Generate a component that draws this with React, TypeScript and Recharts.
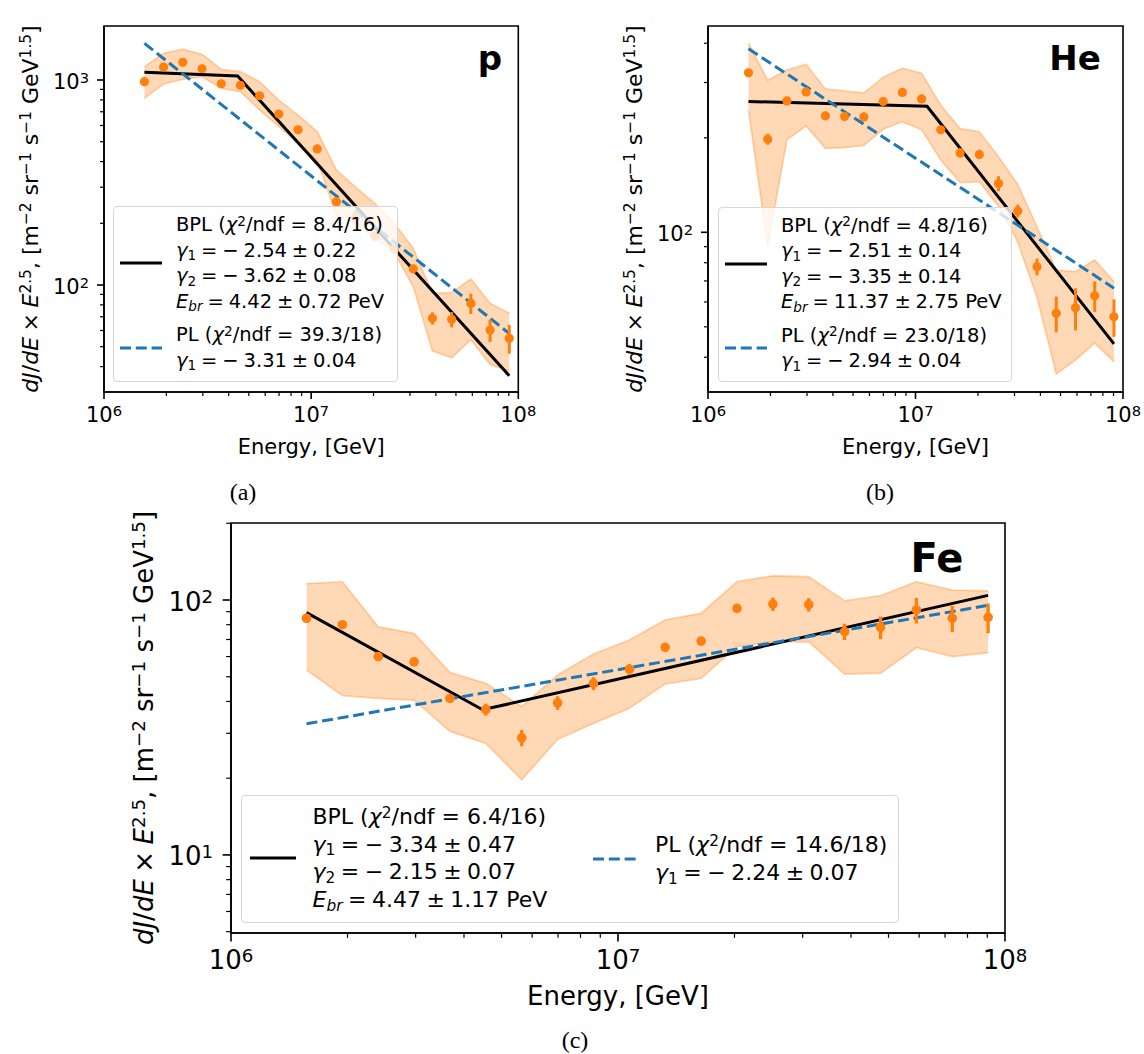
import React from 'react';
import {
  ComposedChart, Area, Line, Scatter, ErrorBar, XAxis, YAxis, ReferenceArea, Legend,
} from 'recharts';

const FONT = '"DejaVu Sans", Verdana, sans-serif';
const ORANGE = '#ff7f0e';
const BLUE = '#1f77b4';

// energy bin centres [GeV], same binning in all panels
const energy = [1.567e6, 1.94e6, 2.401e6, 2.972e6, 3.679e6, 4.555e6, 5.639e6, 6.981e6, 8.643e6, 1.07e7,
  1.324e7, 1.64e7, 2.03e7, 2.513e7, 3.111e7, 3.851e7, 4.768e7, 5.902e7, 7.307e7, 9.045e7];

const xTicks = [1e6, 2e6, 3e6, 4e6, 5e6, 6e6, 7e6, 8e6, 9e6, 1e7, 2e7, 3e7, 4e7, 5e7, 6e7, 7e7, 8e7, 9e7, 1e8];

// (a) protons
const pFlux = [981, 1157, 1220, 1135, 959, 942, 838, 682, 572, 461, 255, 215, 173, 150, 120, 68.8, 68, 81.4, 60.3, 55];
const pErr = [12, 13, 13, 12, 10, 9, 8, 7, 6, 5, 4, 4, 3.5, 3.5, 4, 4.7, 5.8, 9.2, 7.5, 8.8];
const pLo = [815, 955, 1008, 1038, 911, 877, 714, 592, 491, 407, 219, 200, 170, 145, 98, 47.6, 44.2, 54, 41, 38];
const pHi = [1161, 1349, 1412, 1335, 1128, 1098, 981, 798, 674, 560, 364, 300, 250, 200, 151, 91, 92, 107, 81.5, 72.8];
const pBplE = [1.567e6, 4.42e6, 9.045e7];
const pBplY = [1090, 1046, 36.1];
const pPlE = [1.567e6, 9.045e7];
const pPlY = [1510, 58];
const pYTicks = [40, 50, 60, 70, 80, 90, 100, 200, 300, 400, 500, 600, 700, 800, 900, 1000];
const pBplFit = ['8.4/16', '2.54', '0.22', '3.62', '0.08', '4.42', '0.72'];
const pPlFit = ['39.3/18', '3.31', '0.04'];

// (b) helium
const hFlux = [322, 198, 262, 280, 235, 234, 233, 261, 279, 266, 212, 179, 177, 143, 117, 77.7, 55.2, 57.5, 62.8, 53.8];
const hErr = [9, 8, 8, 8, 7, 7, 7, 7, 7, 7, 6, 6, 6, 7.8, 5.5, 4.8, 7.2, 8.8, 7, 7.3];
const hLo = [245, 90, 197, 218, 185, 186, 189, 213, 225, 212, 170, 144, 145, 121, 93, 62, 35.4, 39.2, 44.4, 38.7];
const hHi = [400, 305, 329, 343, 286, 282, 278, 312, 333, 321, 254, 214, 209, 174, 142, 104, 75.8, 75, 81.6, 69.6];
const hBplE = [1.567e6, 1.137e7, 9.045e7];
const hBplY = [261, 252, 44.1];
const hPlE = [1.567e6, 9.045e7];
const hPlY = [384, 66.4];
const hYTicks = [40, 50, 60, 70, 80, 90, 100, 200, 300, 400];
const hBplFit = ['4.8/16', '2.51', '0.14', '3.35', '0.14', '11.37', '2.75'];
const hPlFit = ['23.0/18', '2.94', '0.04'];

// (c) iron
const fFlux = [84.8, 80, 60, 57.2, 41.1, 37.2, 28.8, 39.5, 47.1, 53.5, 65.2, 69, 92.7, 96.4, 95.9, 75.2, 78.2, 91.4, 84.8, 85.5];
const fErr = [1.5, 1.5, 1.3, 1.3, 1.5, 2, 2.1, 2.4, 2.7, 2.6, 2, 2.2, 2.5, 5.8, 5.8, 5.5, 8, 10.5, 10, 11.5];
const fLo = [53.1, 42.2, 41.1, 40.5, 30.5, 27.4, 19.7, 28.4, 32.8, 37.6, 46.8, 49.3, 65.6, 68.6, 68.6, 51.2, 51.6, 65, 60, 62.1];
const fHi = [116, 118, 78.5, 74, 52, 47.1, 38.2, 50.8, 61.4, 69.7, 83.5, 88.7, 118, 124.5, 123.4, 99.4, 104, 118, 109.4, 108.7];
const fBplE = [1.567e6, 4.47e6, 9.045e7];
const fBplY = [89.2, 37.1, 104.3];
const fPlE = [1.567e6, 9.045e7];
const fPlY = [32.7, 95.3];
const fYTicks = [5, 6, 7, 8, 9, 10, 20, 30, 40, 50, 60, 70, 80, 90, 100, 200];
const fBplFit = ['6.4/16', '3.34', '0.47', '2.15', '0.07', '4.47', '1.17'];
const fPlFit = ['14.6/18', '2.24', '0.07'];

const isDecade = (v: number) => {
  const l = Math.log10(v);
  return Math.abs(l - Math.round(l)) < 1e-6;
};

const SP = '\u2005';

const I = ({ children }: any) => <span style={{ fontStyle: 'italic' }}>{children}</span>;
const Sup = ({ children }: any) => (
  <span style={{ fontSize: '0.7em', position: 'relative', top: '-0.4em' }}>{children}</span>
);
const Sub = ({ children }: any) => (
  <span style={{ fontSize: '0.7em', position: 'relative', top: '0.25em' }}>{children}</span>
);

function Handle({ dashed, len }: { dashed: boolean; len: number }) {
  return (
    <svg width={len} height={10} style={{ display: 'block' }}>
      <line x1={0} x2={len} y1={5} y2={5} stroke={dashed ? BLUE : '#000'} strokeWidth={3}
        strokeDasharray={dashed ? '11 4.8' : undefined} />
    </svg>
  );
}

function Entry({ left, top, lh, hl, gap, dashed, lines }: any) {
  return (
    <div style={{ position: 'absolute', left, top, display: 'flex', alignItems: 'center' }}>
      <div style={{ width: hl, marginRight: gap }}><Handle dashed={dashed} len={hl} /></div>
      <div>
        {lines.map((ln: any, i: number) => (
          <div key={i} style={{ height: lh, lineHeight: `${lh}px`, whiteSpace: 'pre' }}>{ln}</div>
        ))}
      </div>
    </div>
  );
}

function LegendBox({ lg, bpl, pl }: any) {
  const bplLines = [
    <>BPL (<I>χ</I><Sup>2</Sup>/ndf = {bpl[0]})</>,
    <><I>γ</I><Sub>1</Sub>{`${SP}=${SP}−${SP}${bpl[1]}${SP}±${SP}${bpl[2]}`}</>,
    <><I>γ</I><Sub>2</Sub>{`${SP}=${SP}−${SP}${bpl[3]}${SP}±${SP}${bpl[4]}`}</>,
    <><I>E</I><Sub><I>br</I></Sub>{`${SP}=${SP}${bpl[5]}${SP}±${SP}${bpl[6]} PeV`}</>,
  ];
  const plLines = [
    <>PL (<I>χ</I><Sup>2</Sup>/ndf = {pl[0]})</>,
    <><I>γ</I><Sub>1</Sub>{`${SP}=${SP}−${SP}${pl[1]}${SP}±${SP}${pl[2]}`}</>,
  ];
  return (
    <div style={{
      position: 'relative', width: '100%', height: '100%', boxSizing: 'border-box',
      border: '1px solid #d6d6d6', borderRadius: 4, background: 'rgba(255,255,255,0.8)',
      fontFamily: FONT, fontSize: lg.fs, color: '#000',
    }}>
      <Entry left={lg.bplLeft} top={lg.bplTop} lh={lg.lh} hl={lg.hl} gap={lg.gap} dashed={false} lines={bplLines} />
      <Entry left={lg.plLeft} top={lg.plTop} lh={lg.lh} hl={lg.hl} gap={lg.gap} dashed lines={plLines} />
    </div>
  );
}

function YLabelText({ x, y, fs }: { x: number; y: number; fs: number }) {
  const sh = 0.3 * fs;
  const ss = 0.7 * fs;
  return (
    <text x={x} y={y} transform={`rotate(-90 ${x} ${y})`} textAnchor="middle" fontSize={fs}
      fontFamily={FONT} fill="#000" style={{ whiteSpace: 'pre' }}>
      <tspan fontStyle="italic">dJ</tspan>
      <tspan>/</tspan>
      <tspan fontStyle="italic">dE</tspan>
      <tspan>{`${SP}×${SP}`}</tspan>
      <tspan fontStyle="italic">E</tspan>
      <tspan dy={-sh} fontSize={ss}>2.5</tspan>
      <tspan dy={sh}>{', [m'}</tspan>
      <tspan dy={-sh} fontSize={ss}>−2</tspan>
      <tspan dy={sh}>{' sr'}</tspan>
      <tspan dy={-sh} fontSize={ss}>−1</tspan>
      <tspan dy={sh}>{' s'}</tspan>
      <tspan dy={-sh} fontSize={ss}>−1</tspan>
      <tspan dy={sh}>{' GeV'}</tspan>
      <tspan dy={-sh} fontSize={ss}>1.5</tspan>
      <tspan dy={sh}>]</tspan>
    </text>
  );
}

function Panel(c: any) {
  const rows = energy.map((e, i) => ({ e, flux: c.flux[i], err: c.err[i], band: [c.lo[i], c.hi[i]] }));
  const bpl = c.bplE.map((e: number, i: number) => ({ e, y: c.bplY[i] }));
  const pl = c.plE.map((e: number, i: number) => ({ e, y: c.plY[i] }));

  const renderXTick = (tp: any) => {
    const v = tp.payload.value;
    const major = isDecade(v);
    return (
      <g>
        <line x1={tp.x} x2={tp.x} y1={tp.y} y2={tp.y + (major ? c.tMaj : c.tMin)} stroke="#000"
          strokeWidth={major ? 1.6 : 1.2} />
        {major && (
          <text x={tp.x} y={tp.y + c.xLabOff} textAnchor="middle" fontSize={c.fs} fontFamily={FONT} fill="#000">
            10<tspan dy={-0.28 * c.fs} fontSize={0.7 * c.fs}>{Math.round(Math.log10(v))}</tspan>
          </text>
        )}
      </g>
    );
  };

  const renderYTick = (tp: any) => {
    const v = tp.payload.value;
    const major = isDecade(v);
    return (
      <g>
        <line x1={tp.x - (major ? c.tMaj : c.tMin)} x2={tp.x} y1={tp.y} y2={tp.y} stroke="#000"
          strokeWidth={major ? 1.6 : 1.2} />
        {major && (
          <text x={tp.x - c.tMaj - c.pad - 1} y={tp.y + 0.365 * c.fs + 1} textAnchor="end" fontSize={c.fs}
            fontFamily={FONT} fill="#000">
            10<tspan dy={-0.28 * c.fs} fontSize={0.7 * c.fs}>{Math.round(Math.log10(v))}</tspan>
          </text>
        )}
      </g>
    );
  };

  const renderXLabel = () => (
    <g>
      <text x={c.xLabelX} y={c.xLabelY} textAnchor="middle" fontSize={c.fs} fontFamily={FONT} fill="#000">
        Energy, [GeV]
      </text>
      <text x={c.titleX} y={c.titleY} textAnchor="middle" fontSize={c.titleFs} fontWeight="bold"
        fontFamily={FONT} fill="#000">
        {c.title}
      </text>
    </g>
  );

  const renderYLabel = () => <YLabelText x={c.yLabelX} y={c.yLabelY} fs={c.yLabFs} />;

  return (
    <div style={{ position: 'absolute', left: c.left, top: c.top }}>
      <ComposedChart width={c.width} height={c.height} data={rows}
        margin={{ top: c.mTop, right: c.mRight, bottom: 0, left: 0 }}>
        <XAxis dataKey="e" type="number" scale="log" domain={[1e6, 1e8]} allowDataOverflow ticks={xTicks}
          interval={0} height={c.xH} tickSize={0} tickMargin={0} tickLine={false}
          axisLine={{ stroke: '#000', strokeWidth: 1.6 }} tick={renderXTick} label={renderXLabel} />
        <YAxis type="number" scale="log" domain={c.yDomain} allowDataOverflow ticks={c.yTicks}
          interval={0} width={c.yW} tickSize={0} tickMargin={0} tickLine={false}
          axisLine={{ stroke: '#000', strokeWidth: 1.6 }} tick={renderYTick} label={renderYLabel} />
        <Area dataKey="band" type="linear" fill={ORANGE} fillOpacity={0.3} stroke={ORANGE} strokeOpacity={0.3}
          strokeWidth={1.8} dot={false} activeDot={false} isAnimationActive={false} />
        <Line data={bpl} dataKey="y" type="linear" stroke="#000" strokeWidth={3} dot={false} activeDot={false}
          isAnimationActive={false} />
        <Line data={pl} dataKey="y" type="linear" stroke={BLUE} strokeWidth={3} strokeDasharray="11 4.8"
          dot={false} activeDot={false} isAnimationActive={false} />
        <Scatter dataKey="flux" isAnimationActive={false}
          shape={(sp: any) => <circle cx={sp.cx} cy={sp.cy} r={c.dotR} fill={ORANGE} />}>
          <ErrorBar dataKey="err" direction="y" width={0} stroke={ORANGE} strokeWidth={c.ebW}
            isAnimationActive={false} />
        </Scatter>
        <ReferenceArea x1={1e6} x2={1e8} y1={c.yDomain[0]} y2={c.yDomain[1]} fill="none" stroke="#000"
          strokeWidth={1.6} />
        <Legend verticalAlign="middle" align="center" layout="horizontal"
          wrapperStyle={{ left: c.lg.left, top: c.lg.top, width: c.lg.w, height: c.lg.h }}
          content={() => <LegendBox lg={c.lg} bpl={c.bplFit} pl={c.plFit} />} />
      </ComposedChart>
    </div>
  );
}

const smallLegend = { fs: 19.5, lh: 25.5, hl: 42, gap: 14, bplLeft: 5.7, bplTop: 5.25, plLeft: 5.7, plTop: 115.25 };

const panelA = {
  left: 0, top: 0, width: 560, height: 470, mTop: 26, mRight: 41.7, yW: 104, xH: 78,
  yDomain: [30.07, 1834], yTicks: pYTicks,
  flux: pFlux, err: pErr, lo: pLo, hi: pHi, bplE: pBplE, bplY: pBplY, plE: pPlE, plY: pPlY,
  bplFit: pBplFit, plFit: pPlFit,
  fs: 21, yLabFs: 22, tMaj: 7, tMin: 4, pad: 7, xLabOff: 30, dotR: 4.6, ebW: 3,
  title: 'p', titleFs: 34, titleX: 490, titleY: 70,
  xLabelX: 311.2, xLabelY: 454, yLabelX: 38, yLabelY: 209,
  lg: { ...smallLegend, left: 113.3, top: 206, w: 284.4, h: 175.7 },
};

const panelB = {
  left: 600, top: 0, width: 544, height: 470, mTop: 26, mRight: 21, yW: 108, xH: 78,
  yDomain: [31, 454], yTicks: hYTicks,
  flux: hFlux, err: hErr, lo: hLo, hi: hHi, bplE: hBplE, bplY: hBplY, plE: hPlE, plY: hPlY,
  bplFit: hBplFit, plFit: hPlFit,
  fs: 21, yLabFs: 22, tMaj: 7, tMin: 4, pad: 7, xLabOff: 30, dotR: 4.6, ebW: 3,
  title: 'He', titleFs: 34, titleX: 475, titleY: 70,
  xLabelX: 315.5, xLabelY: 454, yLabelX: 42, yLabelY: 209,
  lg: { ...smallLegend, left: 118.3, top: 206.7, w: 293.4, h: 175 },
};

const panelC = {
  left: 90, top: 500, width: 1054, height: 554, mTop: 23, mRight: 139, yW: 141, xH: 121,
  yDomain: [4.94, 200.5], yTicks: fYTicks,
  flux: fFlux, err: fErr, lo: fLo, hi: fHi, bplE: fBplE, bplY: fBplY, plE: fPlE, plY: fPlY,
  bplFit: fBplFit, plFit: fPlFit,
  fs: 26, yLabFs: 26, tMaj: 8.4, tMin: 4.8, pad: 8.4, xLabOff: 36, dotR: 4.8, ebW: 3.3,
  title: 'Fe', titleFs: 40, titleX: 847, titleY: 72,
  xLabelX: 528, xLabelY: 505, yLabelX: 63, yLabelY: 228,
  lg: { fs: 22, lh: 27.8, hl: 46, gap: 16.5, bplLeft: 8, bplTop: 6.8, plLeft: 350.5, plTop: 35.1,
    left: 151, top: 295, w: 657.5, h: 127.7 },
};

const captions = [
  { text: '(a)', x: 243, y: 480 },
  { text: '(b)', x: 880, y: 480 },
  { text: '(c)', x: 575, y: 1028 },
];

export default function App() {
  return (
    <div style={{ position: 'absolute', left: 0, top: 0, width: 1144, height: 1054, background: '#fff', overflow: 'hidden' }}>
      <Panel {...panelA} />
      <Panel {...panelB} />
      <Panel {...panelC} />
      {captions.map((cp) => (
        <div key={cp.text} style={{
          position: 'absolute', left: cp.x - 30, top: cp.y, width: 60, textAlign: 'center',
          fontFamily: '"Liberation Serif", "DejaVu Serif", serif', fontSize: 24, lineHeight: '24px', color: '#000',
        }}>{cp.text}</div>
      ))}
    </div>
  );
}
